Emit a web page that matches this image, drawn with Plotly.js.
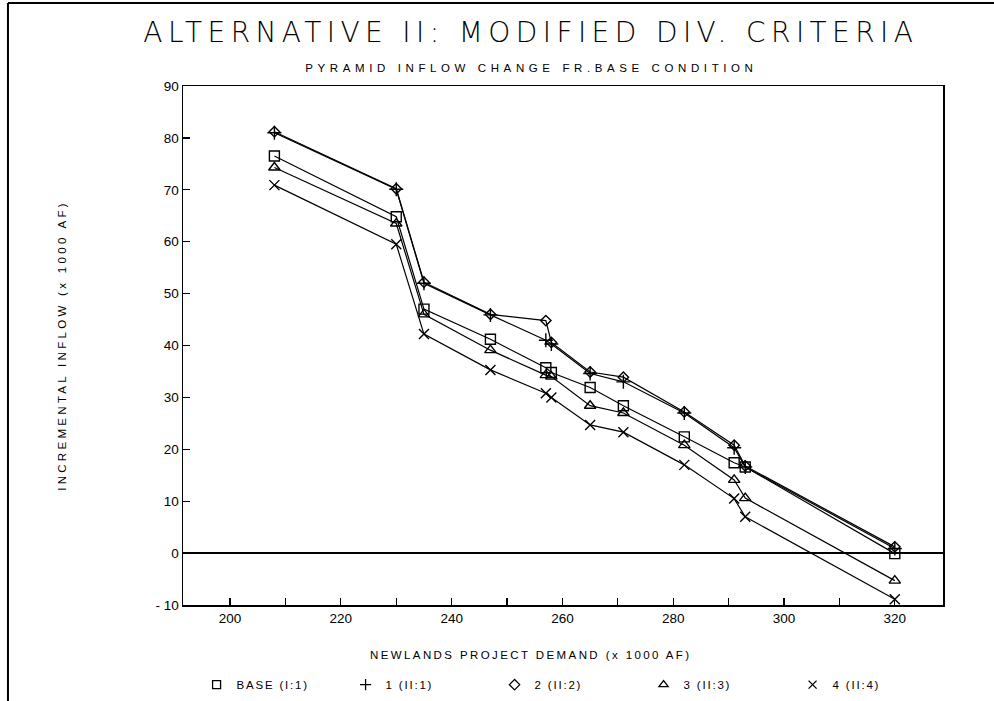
<!DOCTYPE html>
<html>
<head>
<meta charset="utf-8">
<script src="https://cdn.plot.ly/plotly-3.0.1.min.js"></script>
<style>
  html, body { margin: 0; padding: 0; background: #fff; }
  #chart { width: 994px; height: 701px; }
</style>
</head>
<body>
<div id="chart"></div>
<script>
// Newlands Project demand (x 1000 AF)
const demand = [208, 230, 235, 247, 257, 258, 265, 271, 282, 291, 293, 320];

// Incremental inflow (x 1000 AF) per alternative
const seriesBase = [76.5, 64.8, 47.0, 41.2, 35.7, 34.8, 31.9, 28.4, 22.4, 17.4, 16.6, -0.1];
const series1    = [81.0, 70.1, 52.0, 45.9, 41.0, 40.3, 34.6, 33.0, 27.0, 20.3, 16.6, 0.9];
const series2    = [81.2, 70.2, 52.2, 46.0, 44.8, 40.6, 34.9, 33.9, 27.2, 20.8, 16.8, 1.2];
const series3    = [74.3, 63.5, 46.0, 39.1, 34.3, 34.0, 28.4, 27.0, 20.8, 14.1, 10.6, -5.3];
const series4    = [70.9, 59.5, 42.2, 35.3, 30.8, 30.0, 24.7, 23.3, 17.0, 10.5, 7.0, -8.9];

const seriesNames = ['BASE (I:1)', '1 (II:1)', '2 (II:2)', '3 (II:3)', '4 (II:4)'];
const seriesData = [seriesBase, series1, series2, series3, series4];
const seriesSymbols = ['square-open', 'cross-thin-open', 'diamond-open', 'triangle-up-open', 'x-thin-open'];
const seriesSizes = [10, 10, 8, 10, 10];

const xTickVals = [200, 210, 220, 230, 240, 250, 260, 270, 280, 290, 300, 310, 320];
const xTickText = ['200', '', '220', '', '240', '', '260', '', '280', '', '300', '', '320'];
const yTickVals = [-10, 0, 10, 20, 30, 40, 50, 60, 70, 80, 90];
const yTickText = ['- 10', '0', '10', '20', '30', '40', '50', '60', '70', '80', '90'];

const traces = [];
seriesData.forEach((ys, i) => {
  traces.push({
    x: demand, y: ys, type: 'scatter', mode: 'lines+markers',
    name: seriesNames[i], showlegend: false,
    line: { color: '#000', width: 1.2 },
    marker: { symbol: seriesSymbols[i], size: seriesSizes[i], color: '#000',
              line: { color: '#000', width: 1.4 } }
  });
});
// legend entries (symbols only)
seriesData.forEach((ys, i) => {
  traces.push({
    x: [null], y: [null], type: 'scatter', mode: 'markers',
    name: seriesNames[i], showlegend: true, hoverinfo: 'skip',
    marker: { symbol: seriesSymbols[i], size: 8, color: '#000',
              line: { color: '#000', width: 1.3 } }
  });
});

const F = 'Liberation Sans, Arial, sans-serif';
const layout = {
  width: 994, height: 701,
  paper_bgcolor: '#fff', plot_bgcolor: '#fff',
  margin: { l: 183, r: 51, t: 86, b: 96 },
  font: { family: F, color: '#000', size: 12 },
  title: {
    text: 'ALTERNATIVE II: MODIFIED DIV. CRITERIA',
    font: { family: 'DejaVu Sans, sans-serif', size: 28, color: '#000', weight: 200 },
    x: 0.534, xanchor: 'center', y: 0.954, yanchor: 'middle', yref: 'container'
  },
  xaxis: {
    range: [191.5, 328.7],
    tickvals: xTickVals, ticktext: xTickText,
    ticks: 'inside', ticklen: 7, tickwidth: 1.2, tickcolor: '#000',
    showline: true, linecolor: '#000', linewidth: 1.5, mirror: true,
    showgrid: false, zeroline: false,
    tickfont: { family: F, size: 13.5, color: '#000' }
  },
  yaxis: {
    range: [-10, 90],
    tickvals: yTickVals, ticktext: yTickText,
    ticks: 'inside', ticklen: 7, tickwidth: 1.2, tickcolor: '#000',
    showline: true, linecolor: '#000', linewidth: 1.5, mirror: true,
    showgrid: false, zeroline: true, zerolinecolor: '#000', zerolinewidth: 1.2,
    tickfont: { family: F, size: 13.5, color: '#000' },
    title: { text: 'INCREMENTAL INFLOW (x 1000 AF)', standoff: 86,
             font: { family: F, size: 11.5, color: '#000' } }
  },
  showlegend: true,
  legend: {
    orientation: 'h', x: 0.508, xanchor: 'center',
    yref: 'container', y: 0.044, yanchor: 'top',
    font: { family: F, size: 11.5, color: '#000' }, bgcolor: 'rgba(0,0,0,0)',
    entrywidth: 104, entrywidthmode: 'pixels', itemwidth: 30
  },
  annotations: [{
    text: 'PYRAMID INFLOW CHANGE FR.BASE CONDITION',
    xref: 'paper', yref: 'paper', x: 0.458, y: 1.0347,
    xanchor: 'center', yanchor: 'middle', showarrow: false,
    font: { family: F, size: 11.5, color: '#000' }
  }, {
    text: 'NEWLANDS PROJECT DEMAND (x 1000 AF)',
    xref: 'paper', yref: 'paper', x: 0.458, y: -0.0963,
    xanchor: 'center', yanchor: 'middle', showarrow: false,
    font: { family: F, size: 11.5, color: '#000' }
  }],
  shapes: [
    { type: 'line', xref: 'paper', yref: 'paper', x0: -0.2303, x1: 1.07, y0: 1.1599, y1: 1.1599,
      line: { color: '#000', width: 2 } },
    { type: 'line', xref: 'paper', yref: 'paper', x0: -0.2303, x1: -0.2303, y0: 1.1599, y1: -0.19,
      line: { color: '#000', width: 2 } }
  ]
};

Plotly.newPlot('chart', traces, layout, { displayModeBar: false, staticPlot: true }).then(() => {
  const sp = (sel, v) => document.querySelectorAll(sel).forEach(el => { el.style.letterSpacing = v; });
  sp('.gtitle', '5.4px');
  const ann = document.querySelectorAll('.annotation-text');
  if (ann[0]) ann[0].style.letterSpacing = '4.6px';
  if (ann[1]) ann[1].style.letterSpacing = '2.4px';
  sp('.ytitle', '3.3px');
  sp('.legendtext', '1.8px');
});
</script>
</body>
</html>
